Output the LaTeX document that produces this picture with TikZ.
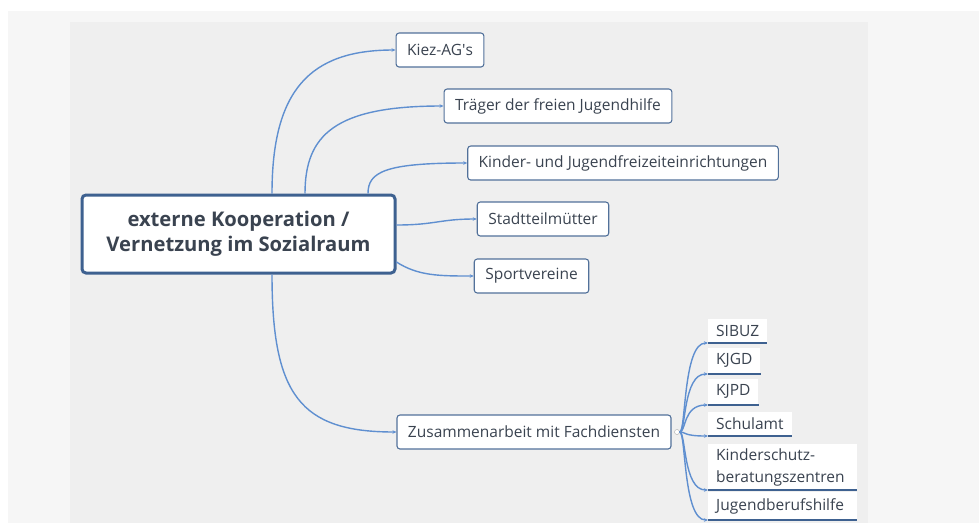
\documentclass[tikz,border=0pt]{standalone}
\usepackage{fontspec}
\setmainfont{Open Sans}
\usepackage{xcolor}
\usetikzlibrary{arrows.meta}

\definecolor{linkblue}{HTML}{5F8FD0}
\definecolor{boxline}{HTML}{52719A}
\definecolor{rootline}{HTML}{3E6190}
\definecolor{txt}{HTML}{3A4350}
\definecolor{outerbg}{HTML}{F6F6F6}
\definecolor{panelbg}{HTML}{EFEFEF}

\begin{document}
\begin{tikzpicture}[x=1pt, y=-1pt,
    every node/.style={font=\fontsize{15.5}{18}\selectfont, text=txt},
    root/.style={draw=rootline, line width=3pt, rounded corners=4pt, fill=white,
        minimum width=313pt, minimum height=78pt, align=center,
        font=\fontsize{20.2}{25}\selectfont\bfseries},
    topic/.style={draw=boxline, line width=1.1pt, rounded corners=3pt, fill=white,
        minimum height=34pt, inner xsep=11pt},
    leaf/.style={fill=white, anchor=south west, inner xsep=8pt, inner ysep=6pt,
        align=left, font=\fontsize{15.5}{22}\selectfont},
    link/.style={draw=linkblue, line width=1.4pt, -{Stealth[length=4pt, width=3.5pt]}}]
    \useasboundingbox (0,0) rectangle (979,523);
    \fill[outerbg] (8,11) rectangle (979,523);
    \fill[panelbg] (70,22) rectangle (868,523);

    \node[root] (root) at (238.5,234) {externe Kooperation /\\Vernetzung im Sozialraum};

    \node[topic] (kiez) at (440,50) {Kiez-AG\textquotesingle s};
    \node[topic] (traeger) at (558,106) {Träger der freien Jugendhilfe};
    \node[topic] (kinder) at (623,163) {Kinder- und Jugendfreizeiteinrichtungen};
    \node[topic] (muetter) at (543,219) {Stadtteilmütter};
    \node[topic] (sport) at (531.5,276) {Sportvereine};
    \node[topic] (fach) at (534,432) {Zusammenarbeit mit Fachdiensten};

    \draw[link] ([xshift=33.5pt]root.north) .. controls (272,90) and (310,50) .. (kiez.west);
    \draw[link] ([xshift=66.5pt]root.north) .. controls (305,135) and (335,106) .. (traeger.west);
    \draw[link] ([xshift=129.5pt]root.north) .. controls (368,172) and (385,163) .. (kinder.west);
    \draw[link] ([yshift=9pt]root.east) .. controls (435,225) and (440,219) .. (muetter.west);
    \draw[link] ([yshift=-28pt]root.east) .. controls (418,276) and (440,276) .. (sport.west);
    \draw[link] ([xshift=33.5pt]root.south) .. controls (272,395) and (300,432) .. (fach.west);

    % Fachdienste
    \node[draw=gray!70, circle, inner sep=0pt, minimum size=5pt, fill=white] (hub) at (677,432) {};
    \node[leaf] (sibuz) at (708,343) {SIBUZ};
    \node[leaf] (kjgd) at (708,374) {KJGD};
    \node[leaf] (kjpd) at (708,405) {KJPD};
    \node[leaf] (schulamt) at (708,436) {Schulamt};
    \node[leaf, text width=133pt, inner ysep=4pt] (kinderschutz) at (708,490) {Kinderschutz-\\beratungszentren};
    \node[leaf, text width=133pt] (berufshilfe) at (708,520) {Jugendberufshilfe};

    \foreach \n in {sibuz,kjgd,kjpd,schulamt,kinderschutz,berufshilfe}{
        \draw[rootline, line width=1.6pt] (\n.south west) -- (\n.south east);
        \draw[link] (hub.east) .. controls (686,432) and ([xshift=-25pt]\n.south west) .. (\n.south west);
    }
\end{tikzpicture}
\end{document}
